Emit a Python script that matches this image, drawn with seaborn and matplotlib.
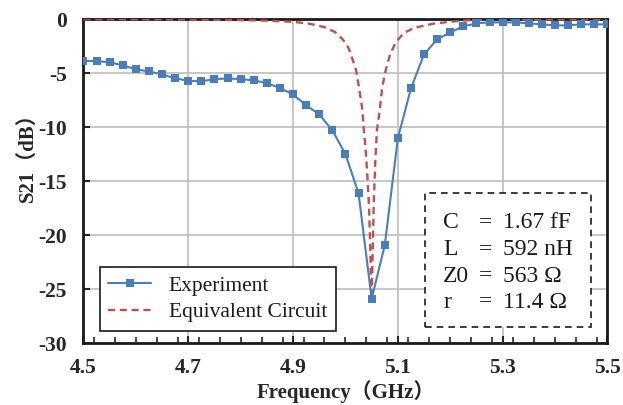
import numpy as np
import pandas as pd
import matplotlib
matplotlib.use("Agg")
import matplotlib.pyplot as plt
from matplotlib.patches import Rectangle
from matplotlib.ticker import MultipleLocator
import seaborn as sns

# ---- data ----
exp_freq = [4.500, 4.525, 4.550, 4.575, 4.600, 4.625, 4.650, 4.675, 4.700, 4.725,
            4.750, 4.775, 4.800, 4.825, 4.850, 4.875, 4.900, 4.925, 4.950, 4.975,
            5.000, 5.025, 5.050, 5.075, 5.100, 5.125, 5.150, 5.175, 5.200, 5.225,
            5.250, 5.275, 5.300, 5.325, 5.350, 5.375, 5.400, 5.425, 5.450, 5.475, 5.500]
exp_s21 = [-3.89, -3.89, -4.00, -4.29, -4.66, -4.85, -5.13, -5.50, -5.71, -5.77,
           -5.56, -5.50, -5.56, -5.68, -5.93, -6.39, -6.98, -7.99, -8.83, -10.31,
           -12.50, -16.14, -25.90, -20.96, -11.05, -6.42, -3.27, -1.88, -1.23, -0.68,
           -0.40, -0.31, -0.31, -0.31, -0.40, -0.49, -0.59, -0.59, -0.49, -0.49, -0.49]

eq_freq = [4.50, 4.60, 4.70, 4.80, 4.85, 4.90, 4.93, 4.96, 4.98, 4.993, 5.000,
           5.006, 5.010, 5.015, 5.020, 5.023, 5.028, 5.032, 5.035, 5.038, 5.040,
           5.043, 5.045, 5.047, 5.049, 5.050, 5.052, 5.054, 5.057, 5.060, 5.065,
           5.070, 5.076, 5.085, 5.095, 5.110, 5.130, 5.168, 5.20, 5.232, 5.30,
           5.40, 5.50]
eq_s21 = [-0.02, -0.03, -0.05, -0.10, -0.15, -0.26, -0.42, -0.75, -1.20, -1.79, -2.20,
          -2.70, -3.20, -3.95, -4.70, -5.50, -7.00, -8.30, -10.20, -11.80, -13.10,
          -15.50, -17.40, -20.50, -24.80, -26.00, -21.50, -17.00, -13.10, -10.30, -8.60,
          -6.40, -4.90, -3.30, -2.25, -1.35, -0.83, -0.43, -0.25, -0.12, -0.05,
          -0.03, -0.02]

x_ticks = [4.5, 4.7, 4.9, 5.1, 5.3, 5.5]
y_ticks = [0, -5, -10, -15, -20, -25, -30]
param_names = ["C", "L", "Z0", "r"]
param_values = ["1.67 fF", "592 nH", "563 \u03a9", "11.4 \u03a9"]

exp_df = pd.DataFrame({"f": exp_freq, "s": exp_s21})
eq_df = pd.DataFrame({"f": eq_freq, "s": eq_s21})

sns.set_style("ticks")
plt.rcParams["font.family"] = ["Liberation Serif", "Noto Sans CJK JP", "DejaVu Sans"]

fig = plt.figure(figsize=(6.23, 4.05), dpi=100)
ax = fig.add_axes([0.134, 0.153, 0.841, 0.800])

blue = "#4A7EBB"
red = "#C0504D"

sns.lineplot(data=exp_df, x="f", y="s", ax=ax, color=blue, lw=1.5,
             marker="s", markersize=6, markeredgewidth=0, label="Experiment", zorder=4)
sns.lineplot(data=eq_df, x="f", y="s", ax=ax, color=red, lw=1.7,
             label="Equivalent Circuit", zorder=3)
ax.lines[1].set_dashes((3, 2))

ax.set_xlim(4.5, 5.5)
ax.set_ylim(-30, 0)
ax.set_xticks(x_ticks)
ax.set_yticks(y_ticks)
ax.set_xticklabels([f"{t:.1f}" for t in x_ticks])
ax.set_yticklabels([f"{t:d}" for t in y_ticks])
ax.xaxis.set_minor_locator(MultipleLocator(0.04))

ax.grid(True, which="major", color="#bdbdbd", lw=1.2, zorder=0)
ax.set_axisbelow(True)

for side in ["left", "right", "top", "bottom"]:
    ax.spines[side].set_visible(True)
    ax.spines[side].set_color("#1a1a1a")
    ax.spines[side].set_linewidth(2.0)

ax.tick_params(axis="both", which="major", direction="in", length=5, width=1.5,
               labelsize=15.5, top=False, right=False)
ax.tick_params(axis="y", which="major", pad=12)
ax.tick_params(axis="x", which="major", pad=11)
ax.tick_params(axis="x", which="minor", direction="in", length=4, width=1.2,
               top=False)
for lab in ax.get_xticklabels() + ax.get_yticklabels():
    lab.set_fontweight("bold")

ax.set_xlabel("Frequency（GHz）", fontsize=15, fontweight="bold", labelpad=1)
ax.set_ylabel("S21（dB）", fontsize=15, fontweight="bold")
ax.yaxis.set_label_coords(-0.088, 0.59)

leg = ax.legend(loc="lower left", bbox_to_anchor=(0.031, 0.037), borderaxespad=0,
                fontsize=15.5, frameon=True, fancybox=False, handlelength=2.0,
                borderpad=0.4, labelspacing=0.3, handletextpad=0.8)
leg.get_frame().set_edgecolor("#1a1a1a")
leg.get_frame().set_linewidth(1.2)
leg.get_frame().set_alpha(1)
for t in leg.get_texts():
    t.set_color("#1a1a1a")

# parameter box
W, H = 623.0, 405.0
box = Rectangle((425 / W, 1 - 327 / H), (591 - 425) / W, (327 - 193) / H,
                transform=fig.transFigure, facecolor="white", edgecolor="#1a1a1a",
                lw=1.2, linestyle=(0, (4, 3)), zorder=5)
fig.patches.append(box)
rows_y = [223, 249.5, 276, 302]
for name, val, yy in zip(param_names, param_values, rows_y):
    fig.text(443 / W, 1 - yy / H, name, fontsize=17, va="center", ha="left",
             color="#1a1a1a", zorder=6)
    fig.text(485 / W, 1 - yy / H, "=", fontsize=17, va="center", ha="center",
             color="#1a1a1a", zorder=6)
    fig.text(503 / W, 1 - yy / H, val, fontsize=17, va="center", ha="left",
             color="#1a1a1a", zorder=6)

fig.savefig("out.png", dpi=100)
